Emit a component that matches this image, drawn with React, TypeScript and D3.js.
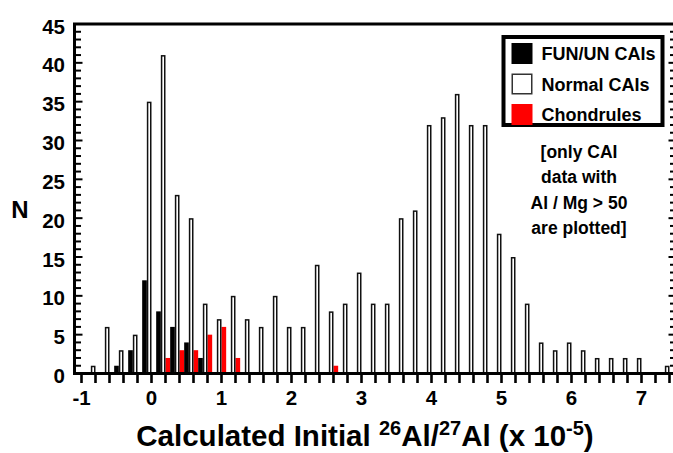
import React, { useEffect, useRef } from "react";
import * as d3 from "d3";

// bin start values (bins are 0.2 wide)
const binStarts = [
  -1.0, -0.8, -0.6, -0.4, -0.2, 0.0, 0.2, 0.4, 0.6, 0.8, 1.0, 1.2, 1.4, 1.6,
  1.8, 2.0, 2.2, 2.4, 2.6, 2.8, 3.0, 3.2, 3.4, 3.6, 3.8, 4.0, 4.2, 4.4, 4.6,
  4.8, 5.0, 5.2, 5.4, 5.6, 5.8, 6.0, 6.2, 6.4, 6.6, 6.8, 7.0, 7.2,
];

const normalCAIs = [
  1, 6, 3, 5, 35, 41, 23, 20, 9, 7, 10, 7, 6, 10, 6, 6, 14, 8, 9, 13, 9, 9,
  20, 21, 32, 33, 36, 32, 32, 18, 15, 9, 4, 3, 4, 3, 2, 2, 2, 2, 0, 1,
];

const funCAIs = [
  0, 0, 1, 3, 12, 8, 6, 4, 2, 0, 0, 0, 0, 0, 0, 0, 0, 0, 0, 0, 0, 0, 0, 0, 0,
  0, 0, 0, 0, 0, 0, 0, 0, 0, 0, 0, 0, 0, 0, 0, 0, 0,
];

const chondrules = [
  0, 0, 0, 0, 0, 0, 2, 3, 3, 5, 6, 2, 0, 0, 0, 0, 0, 0, 1, 0, 0, 0, 0, 0, 0,
  0, 0, 0, 0, 0, 0, 0, 0, 0, 0, 0, 0, 0, 0, 0, 0, 0,
];

const xTickLabels = [-1, 0, 1, 2, 3, 4, 5, 6, 7];
const yTickLabels = [0, 5, 10, 15, 20, 25, 30, 35, 40, 45];

const legendItems = [
  { label: "FUN/UN CAIs", fill: "#000" },
  { label: "Normal CAIs", fill: "#fff" },
  { label: "Chondrules", fill: "#ff0000" },
];

const noteLines = ["[only CAI", "data with", "Al / Mg > 50", "are plotted]"];

const width = 673;
const height = 453;
const FONT = "'Liberation Sans', Arial, Helvetica, sans-serif";

export default function App() {
  const ref = useRef<SVGSVGElement>(null);

  useEffect(() => {
    const svg = d3.select(ref.current);
    svg.selectAll("*").remove();

    const left = 74.5;
    const right = 676.5;
    const top = 24;
    const bottom = 373.5;

    const x = d3.scaleLinear().domain([-1.1, 7.5]).range([left, right]);
    const y = d3.scaleLinear().domain([0, 45]).range([bottom, top]);

    const sub = d3
      .scaleBand()
      .domain(["chondrules", "fun", "normal"])
      .range([0, x(0.2) - x(0)]);

    const bars: { key: string; x0: number; v: number }[] = [];
    binStarts.forEach((b, i) => {
      bars.push({ key: "chondrules", x0: b, v: chondrules[i] });
      bars.push({ key: "fun", x0: b, v: funCAIs[i] });
      bars.push({ key: "normal", x0: b, v: normalCAIs[i] });
    });

    const g = svg.append("g");

    // filled bars
    g.selectAll("rect.fill")
      .data(bars.filter((d) => d.v > 0 && d.key !== "normal"))
      .join("rect")
      .attr("x", (d) => x(d.x0) + (sub(d.key) as number))
      .attr("y", (d) => y(d.v))
      .attr("width", sub.bandwidth())
      .attr("height", (d) => y(0) - y(d.v))
      .attr("fill", (d) => (d.key === "fun" ? "#000" : "#ff0000"));

    // open bars
    g.selectAll("rect.open")
      .data(bars.filter((d) => d.v > 0 && d.key === "normal"))
      .join("rect")
      .attr("x", (d) => x(d.x0) + (sub(d.key) as number) + 0.75)
      .attr("y", (d) => y(d.v) + 0.75)
      .attr("width", sub.bandwidth() - 1.5)
      .attr("height", (d) => y(0) - y(d.v))
      .attr("fill", "#fff")
      .attr("stroke", "#111")
      .attr("stroke-width", 1.5);

    // y ticks (inward on both sides)
    const yMinor = d3.range(0, 46);
    const ax = svg.append("g").attr("stroke", "#000");
    ax.selectAll("line.yl")
      .data(yMinor)
      .join("line")
      .attr("x1", left)
      .attr("x2", (d) => left + (d % 5 === 0 ? 8 : 6.5))
      .attr("y1", (d) => y(d))
      .attr("y2", (d) => y(d))
      .attr("stroke-width", 2);
    ax.selectAll("line.yr")
      .data(yMinor)
      .join("line")
      .attr("x1", right)
      .attr("x2", (d) => right - (d % 5 === 0 ? 8 : 6.5))
      .attr("y1", (d) => y(d))
      .attr("y2", (d) => y(d))
      .attr("stroke-width", 2);

    // x ticks (outward)
    const xMinor = d3.range(-10, 75, 2).map((d) => d / 10);
    ax.selectAll("line.xt")
      .data(xMinor)
      .join("line")
      .attr("x1", (d) => x(d))
      .attr("x2", (d) => x(d))
      .attr("y1", bottom)
      .attr("y2", bottom + 9.5)
      .attr("stroke-width", 2.6);

    // frame
    ax.append("path")
      .attr("d", `M${left},${bottom}V${top}H${right}V${bottom}Z`)
      .attr("fill", "none")
      .attr("stroke-width", 3);

    // y labels
    svg
      .append("g")
      .selectAll("text")
      .data(yTickLabels)
      .join("text")
      .attr("x", 65)
      .attr("y", (d) => y(d) + 9.5)
      .attr("text-anchor", "end")
      .attr("font-family", FONT)
      .attr("font-weight", "bold")
      .attr("font-size", 20.5)
      .text((d) => d);

    // x labels
    svg
      .append("g")
      .selectAll("text")
      .data(xTickLabels)
      .join("text")
      .attr("x", (d) => x(d))
      .attr("y", 405)
      .attr("text-anchor", "middle")
      .attr("font-family", FONT)
      .attr("font-weight", "bold")
      .attr("font-size", 20.5)
      .text((d) => d);

    // axis titles
    svg
      .append("text")
      .attr("x", 20)
      .attr("y", 218)
      .attr("text-anchor", "middle")
      .attr("font-family", FONT)
      .attr("font-weight", "bold")
      .attr("font-size", 24)
      .text("N");

    const xt = svg
      .append("text")
      .attr("x", 365)
      .attr("y", 446)
      .attr("text-anchor", "middle")
      .attr("font-family", FONT)
      .attr("font-weight", "bold")
      .attr("font-size", 29.5);
    const parts: [string, boolean][] = [
      ["Calculated Initial ", false],
      ["26", true],
      ["Al/", false],
      ["27", true],
      ["Al (x 10", false],
      ["-5", true],
      [")", false],
    ];
    parts.forEach(([t, sup], i) => {
      const ts = xt.append("tspan").text(t);
      if (sup) {
        ts.attr("font-size", 20).attr("dy", -11.5);
      } else if (i > 0) {
        ts.attr("dy", 11.5);
      }
    });

    // legend
    const lg = svg.append("g").attr("transform", "translate(503.5,37)");
    lg.append("rect")
      .attr("width", 159)
      .attr("height", 88)
      .attr("fill", "#fff")
      .attr("stroke", "#000")
      .attr("stroke-width", 4);
    legendItems.forEach((item, i) => {
      const row = lg.append("g").attr("transform", `translate(8,${6 + i * 30.5})`);
      row
        .append("rect")
        .attr("x", item.fill === "#fff" ? 0.75 : 0)
        .attr("y", item.fill === "#fff" ? 0.75 : 0)
        .attr("width", item.fill === "#fff" ? 19.5 : 21)
        .attr("height", item.fill === "#fff" ? 19.5 : 21)
        .attr("fill", item.fill)
        .attr("stroke", item.fill === "#fff" ? "#333" : "none")
        .attr("stroke-width", 1.5);
      row
        .append("text")
        .attr("x", 30)
        .attr("y", 17)
        .attr("font-family", FONT)
        .attr("font-weight", "bold")
        .attr("font-size", 18)
        .text(item.label);
    });

    // note
    svg
      .append("g")
      .selectAll("text")
      .data(noteLines)
      .join("text")
      .attr("x", 579)
      .attr("y", (d, i) => 158 + i * 25.3)
      .attr("text-anchor", "middle")
      .attr("font-family", FONT)
      .attr("font-weight", "bold")
      .attr("font-size", 17.5)
      .text((d) => d);
  }, []);

  return (
    <svg
      ref={ref}
      width={width}
      height={height}
      style={{ position: "absolute", left: 0, top: 0, background: "#fff" }}
    />
  );
}
